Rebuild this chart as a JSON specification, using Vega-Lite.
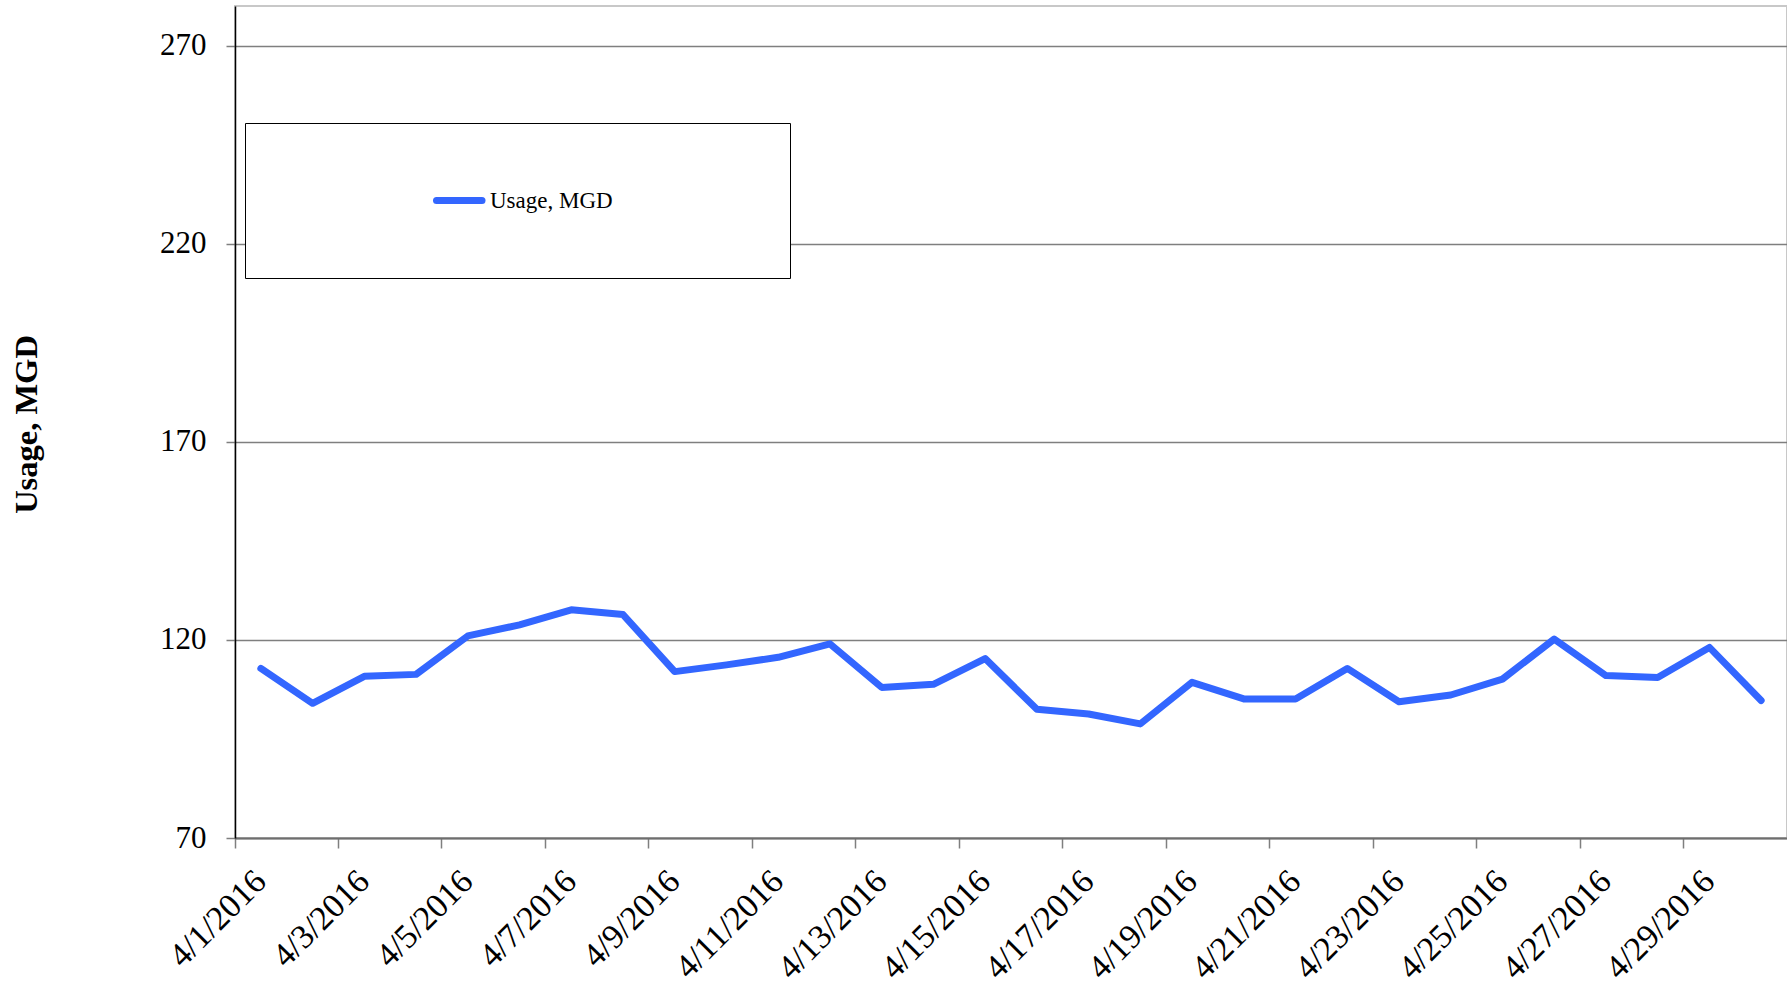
{
  "$schema": "https://vega.github.io/schema/vega-lite/v6.json",
  "width": 1552,
  "height": 832,
  "autosize": {"type": "none"},
  "padding": {"left": 235, "top": 6, "right": 0, "bottom": 149},
  "background": "white",
  "config": {"font": "Liberation Serif", "view": {"stroke": "#c8c8c8", "strokeWidth": 2}},
  "data": {"values": [
    {"date": "4/1/2016", "usage": 112.8, "series": "Usage, MGD"},
    {"date": "4/2/2016", "usage": 104.0, "series": "Usage, MGD"},
    {"date": "4/3/2016", "usage": 110.8, "series": "Usage, MGD"},
    {"date": "4/4/2016", "usage": 111.3, "series": "Usage, MGD"},
    {"date": "4/5/2016", "usage": 121.0, "series": "Usage, MGD"},
    {"date": "4/6/2016", "usage": 123.8, "series": "Usage, MGD"},
    {"date": "4/7/2016", "usage": 127.6, "series": "Usage, MGD"},
    {"date": "4/8/2016", "usage": 126.4, "series": "Usage, MGD"},
    {"date": "4/9/2016", "usage": 112.0, "series": "Usage, MGD"},
    {"date": "4/10/2016", "usage": 113.7, "series": "Usage, MGD"},
    {"date": "4/11/2016", "usage": 115.6, "series": "Usage, MGD"},
    {"date": "4/12/2016", "usage": 119.0, "series": "Usage, MGD"},
    {"date": "4/13/2016", "usage": 108.0, "series": "Usage, MGD"},
    {"date": "4/14/2016", "usage": 108.8, "series": "Usage, MGD"},
    {"date": "4/15/2016", "usage": 115.3, "series": "Usage, MGD"},
    {"date": "4/16/2016", "usage": 102.5, "series": "Usage, MGD"},
    {"date": "4/17/2016", "usage": 101.3, "series": "Usage, MGD"},
    {"date": "4/18/2016", "usage": 98.8, "series": "Usage, MGD"},
    {"date": "4/19/2016", "usage": 109.3, "series": "Usage, MGD"},
    {"date": "4/20/2016", "usage": 105.1, "series": "Usage, MGD"},
    {"date": "4/21/2016", "usage": 105.1, "series": "Usage, MGD"},
    {"date": "4/22/2016", "usage": 112.8, "series": "Usage, MGD"},
    {"date": "4/23/2016", "usage": 104.4, "series": "Usage, MGD"},
    {"date": "4/24/2016", "usage": 106.1, "series": "Usage, MGD"},
    {"date": "4/25/2016", "usage": 110.1, "series": "Usage, MGD"},
    {"date": "4/26/2016", "usage": 120.2, "series": "Usage, MGD"},
    {"date": "4/27/2016", "usage": 111.0, "series": "Usage, MGD"},
    {"date": "4/28/2016", "usage": 110.5, "series": "Usage, MGD"},
    {"date": "4/29/2016", "usage": 118.1, "series": "Usage, MGD"},
    {"date": "4/30/2016", "usage": 104.7, "series": "Usage, MGD"}
  ]},
  "mark": {"type": "line", "strokeWidth": 7, "strokeCap": "round", "strokeJoin": "round"},
  "encoding": {
    "x": {
      "field": "date", "type": "ordinal", "sort": null,
      "scale": {"type": "band", "paddingInner": 0, "paddingOuter": 0},
      "axis": {
        "title": null,
        "values": ["4/1/2016", "4/3/2016", "4/5/2016", "4/7/2016", "4/9/2016", "4/11/2016", "4/13/2016", "4/15/2016", "4/17/2016", "4/19/2016", "4/21/2016", "4/23/2016", "4/25/2016", "4/27/2016", "4/29/2016"],
        "bandPosition": 0,
        "labelAngle": -45, "labelAlign": "right", "labelBaseline": "middle",
        "labelFontSize": 34, "labelColor": "black", "labelOffset": 0, "labelPadding": 28,
        "labelOverlap": false, "labelBound": false, "labelFlush": false,
        "tickSize": 10, "tickColor": "#7f7f7f", "tickWidth": 1.5,
        "domainColor": "#6e6e6e", "domainWidth": 2, "grid": false
      }
    },
    "y": {
      "field": "usage", "type": "quantitative",
      "scale": {"domain": [70, 280], "nice": false, "zero": false},
      "axis": {
        "title": "Usage, MGD", "titleFontSize": 32.5, "titleFontWeight": "bold", "titleColor": "black",
        "titleX": -209, "titleY": 418, "titleAngle": -90, "titleBaseline": "middle", "titleAlign": "center",
        "values": [70, 120, 170, 220, 270],
        "labelFontSize": 31, "labelColor": "black", "labelPadding": 20,
        "tickSize": 9, "tickColor": "#7f7f7f", "tickWidth": 1.5,
        "domainColor": "black", "domainWidth": 1.5,
        "grid": true, "gridColor": "#7f7f7f", "gridWidth": 1.5
      }
    },
    "color": {
      "field": "series", "type": "nominal",
      "scale": {"range": ["#3366FF"]},
      "legend": {
        "title": "\u00a0", "titleOrient": "right", "titlePadding": 112, "titleFontSize": 23,
        "orient": "none", "legendX": 10, "legendY": 117,
        "padding": 65, "strokeColor": "black", "fillColor": "white",
        "symbolType": "stroke", "symbolSize": 166464, "symbolStrokeWidth": 7,
        "symbolDash": [45.5, 1000], "symbolDashOffset": 922.5,
        "labelFontSize": 23, "labelColor": "black", "labelOffset": -235, "clipHeight": 25, "labelLimit": 400,
        "encode": {"symbols": {"update": {"strokeCap": {"value": "round"}}}}
      }
    }
  }
}
